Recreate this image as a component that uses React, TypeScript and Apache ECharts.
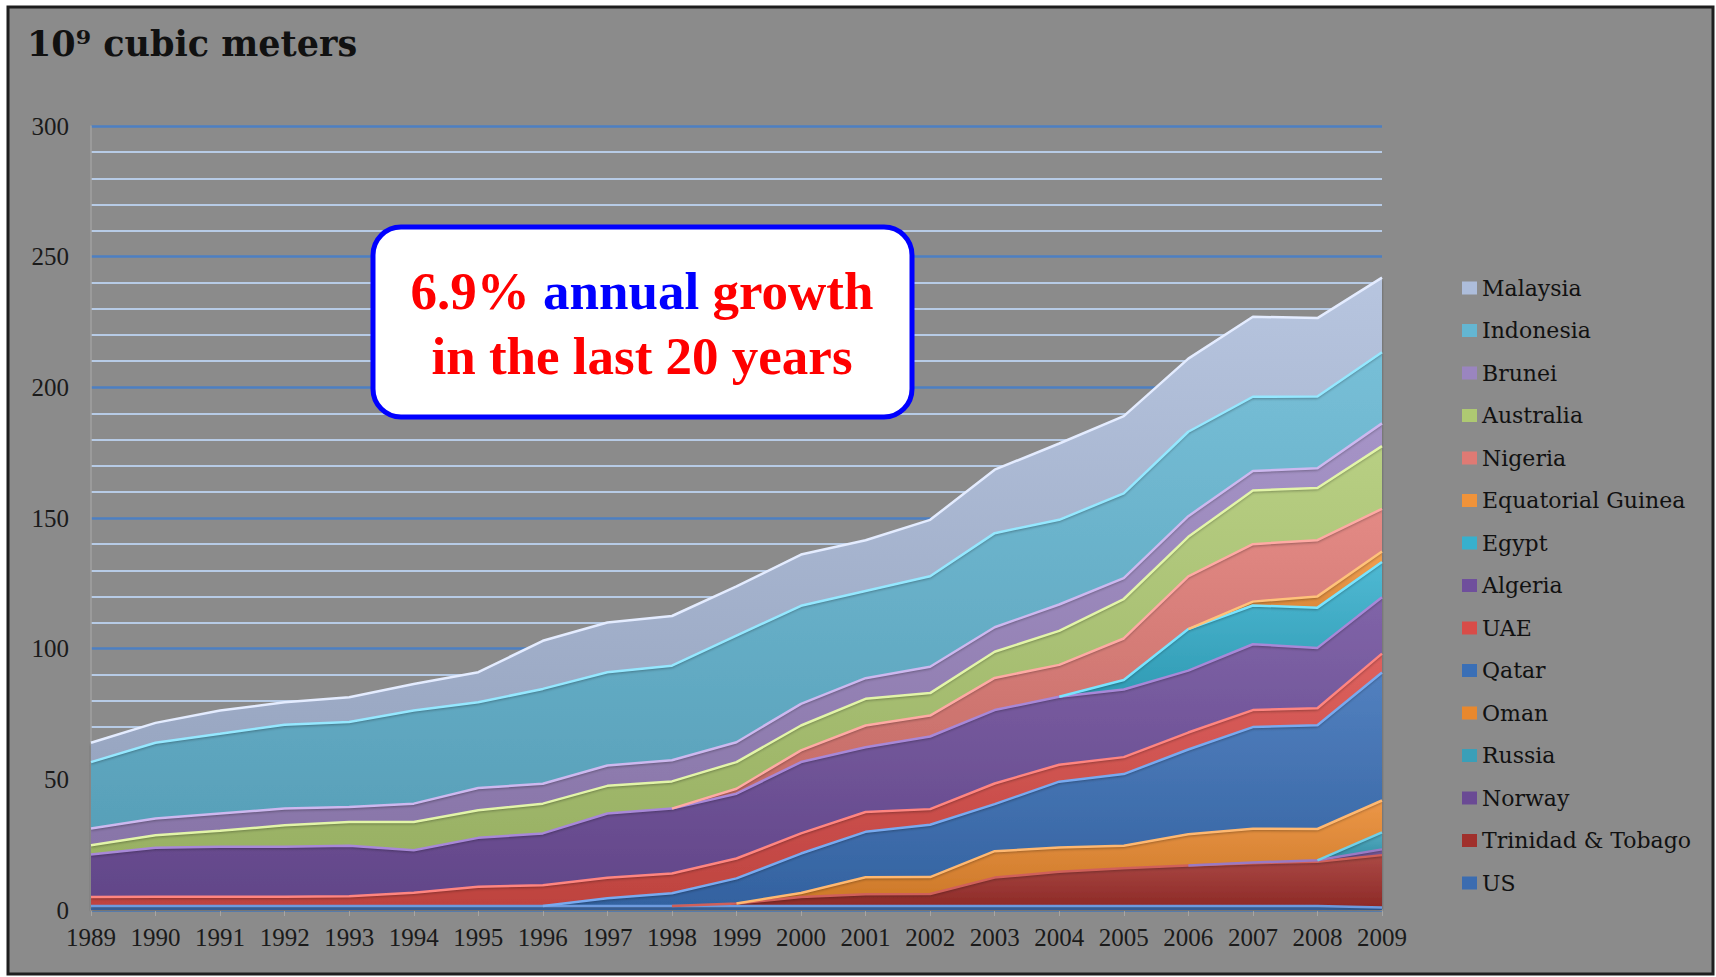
import React, { useEffect, useRef } from "react";
import * as echarts from "echarts";

const years = ["1989","1990","1991","1992","1993","1994","1995","1996","1997","1998","1999","2000","2001","2002","2003","2004","2005","2006","2007","2008","2009"];

const N = null;
const usValues = [1.5,1.5,1.5,1.5,1.5,1.5,1.5,1.5,1.5,1.5,1.5,1.5,1.5,1.5,1.5,1.5,1.5,1.5,1.5,1.5,1.0];
const trinidadValues = [N,N,N,N,N,N,N,N,N,0,1.0,3.5,4.5,4.6,10.9,13.1,14.5,15.5,16.4,17.0,20.0];
const norwayValues = [N,N,N,N,N,N,N,N,N,N,N,N,N,N,N,N,N,0,0.3,0.5,2.2];
const russiaValues = [N,N,N,N,N,N,N,N,N,N,N,N,N,N,N,N,N,N,N,0,6.5];
const omanValues = [N,N,N,N,N,N,N,N,N,N,0,1.5,6.5,6.5,10.1,9.3,8.6,12.0,12.9,12.0,12.2];
const qatarValues = [N,N,N,N,N,N,N,0,3.0,4.9,9.6,15.1,17.4,20.0,18.0,25.2,27.4,32.4,38.9,39.7,49.0];
const uaeValues = [3.5,3.6,3.6,3.6,3.8,5.1,7.4,8.0,7.8,7.6,7.6,7.7,7.6,6.0,7.9,6.5,6.5,6.5,6.5,6.5,7.2];
const algeriaValues = [16.2,18.7,19.1,19.1,19.3,16.3,18.7,19.8,24.6,24.8,24.8,27.3,24.8,27.8,28.1,26.0,25.9,23.7,25.2,23.1,21.6];
const egyptValues = [N,N,N,N,N,N,N,N,N,N,N,N,N,N,N,0,3.6,15.9,14.8,15.4,13.5];
const eqGuineaValues = [N,N,N,N,N,N,N,N,N,N,N,N,N,N,N,N,N,0,1.5,4.3,4.0];
const nigeriaValues = [N,N,N,N,N,N,N,N,N,0,1.9,4.5,8.3,8.0,12.3,12.2,15.9,20.2,22.0,21.5,16.3];
const australiaValues = [3.6,4.8,6.1,8.2,9.1,10.8,10.6,11.4,10.6,10.4,10.2,9.5,10.2,8.6,10.0,13.0,15.1,15.1,20.5,20.0,24.0];
const bruneiValues = [6.4,6.4,6.6,6.4,5.7,7.0,8.5,7.6,7.8,8.1,7.6,8.3,7.9,10.1,9.4,10.1,8.0,7.9,7.5,7.5,8.7];
const indonesiaValues = [25.4,29.0,30.5,32.1,32.5,35.6,32.8,36.3,35.7,36.2,40.8,37.5,33.4,34.6,36.0,32.4,32.4,32.3,28.4,27.5,27.2];
const malaysiaValues = [7.4,7.6,8.9,8.6,9.5,10.2,11.5,18.4,19.0,19.0,18.8,19.6,19.4,21.6,24.3,29.2,29.6,28.0,30.6,30.0,28.6];

const yTicks = [0, 50, 100, 150, 200, 250, 300];

const seriesNames = ["US","Trinidad & Tobago","Norway","Russia","Oman","Qatar","UAE","Algeria","Egypt","Equatorial Guinea","Nigeria","Australia","Brunei","Indonesia","Malaysia"];
const seriesData = [usValues,trinidadValues,norwayValues,russiaValues,omanValues,qatarValues,uaeValues,algeriaValues,egyptValues,eqGuineaValues,nigeriaValues,australiaValues,bruneiValues,indonesiaValues,malaysiaValues];
const fillColors = ["#3b6cb0","#a0302c","#6a4a94","#3a9fb8","#e8882e","#3a6fb6","#d84c48","#6f4f9c","#37b0cd","#f0933a","#df7a74","#aec972","#9a85bf","#64b6d2","#adbddb"];
const edgeColors = ["#6d9ade","#d0605a","#9a7ac4","#70d0e8","#ffb870","#78aaf0","#ff8580","#a888d8","#78e4ff","#ffc27a","#ffaaa4","#e2f5a8","#cdb8ef","#95e8ff","#e4ecff"];

function mix(hex: string, target: number, t: number): string {
  const n = parseInt(hex.slice(1), 16);
  const ch = [(n >> 16) & 255, (n >> 8) & 255, n & 255].map((c) => Math.round(c + (target - c) * t));
  return "rgb(" + ch.join(",") + ")";
}

export default function App() {
  const ref = useRef<HTMLDivElement>(null);
  useEffect(() => {
    const chart = echarts.init(ref.current!, null, { renderer: "svg" });
    const series = seriesNames.map((name, i) => ({
      name,
      type: "line",
      stack: "total",
      data: seriesData[i],
      symbol: "none",
      showSymbol: false,
      smooth: false,
      connectNulls: false,
      itemStyle: { color: fillColors[i] },
      lineStyle: { color: edgeColors[i], width: 2.5 },
      areaStyle: {
        color: new echarts.graphic.LinearGradient(0, 0, 0, 1, [
          { offset: 0, color: mix(fillColors[i], 255, 0.12) },
          { offset: 1, color: mix(fillColors[i], 0, 0.12) },
        ]),
        opacity: 1,
        shadowColor: "rgba(0,0,0,0.35)",
        shadowBlur: 3,
        shadowOffsetY: 2,
      },
      emphasis: { disabled: true },
    }));
    chart.setOption({
      animation: false,
      backgroundColor: "transparent",
      title: {
        text: "10⁹ cubic meters",
        left: 22,
        top: 21,
        textStyle: { fontFamily: "DejaVu Serif", fontWeight: "bold", fontSize: 35, color: "#111" },
      },
      graphic: [
        {
          type: "rect",
          z: -10,
          silent: true,
          shape: { x: 8, y: 7, width: 1705, height: 967 },
          style: { fill: "#8b8b8b", stroke: "#1e1e1e", lineWidth: 3 },
        },
        {
          type: "rect",
          z: 100,
          shape: { x: 373, y: 227, width: 539, height: 190, r: 28 },
          style: { fill: "#ffffff", stroke: "#0000ff", lineWidth: 5 },
        },
        {
          type: "text",
          z: 101,
          x: 642,
          y: 323,
          style: {
            text: "{r|6.9% }{b|annual}{r| growth}\n{r|in the last 20 years}",
            align: "center",
            verticalAlign: "middle",
            rich: {
              r: { fill: "#ff0000", fontFamily: "Liberation Serif", fontWeight: "bold", fontSize: 53, lineHeight: 65 },
              b: { fill: "#0000ff", fontFamily: "Liberation Serif", fontWeight: "bold", fontSize: 53, lineHeight: 65 },
            },
          },
        },
      ],
      legend: {
        orient: "vertical",
        left: 1462,
        top: 277,
        padding: 0,
        icon: "rect",
        itemWidth: 15,
        itemHeight: 13,
        itemGap: 20.5,
        data: [...seriesNames].reverse(),
        textStyle: { fontFamily: "DejaVu Serif", fontSize: 22, color: "#111" },
      },
      grid: { left: 91, right: 334, top: 126, bottom: 67, containLabel: false },
      xAxis: {
        type: "category",
        data: years,
        boundaryGap: false,
        axisLine: { lineStyle: { color: "#a6a6a6", width: 2 } },
        axisTick: { show: true, length: 6, lineStyle: { color: "#a6a6a6" } },
        axisLabel: { fontFamily: "Liberation Serif", fontSize: 25, color: "#1a1a1a", margin: 15, interval: 0 },
        splitLine: { show: false },
      },
      yAxis: {
        type: "value",
        min: yTicks[0],
        max: yTicks[yTicks.length - 1],
        interval: 50,
        axisLine: { show: true, lineStyle: { color: "#a0a0a0", width: 1.5 } },
        axisTick: { show: false },
        axisLabel: { fontFamily: "Liberation Serif", fontSize: 25, color: "#1a1a1a", margin: 22 },
        splitLine: { show: true, lineStyle: { color: "#4d7fc2", width: 2.5 } },
        minorTick: { show: false, splitNumber: 5 },
        minorSplitLine: { show: true, lineStyle: { color: "#b7cbe6", width: 2 } },
      },
      series,
    });
    return () => chart.dispose();
  }, []);
  return (
    <div
      ref={ref}
      style={{ position: "absolute", left: 0, top: 0, width: 1716, height: 977, background: "#ffffff" }}
    />
  );
}
